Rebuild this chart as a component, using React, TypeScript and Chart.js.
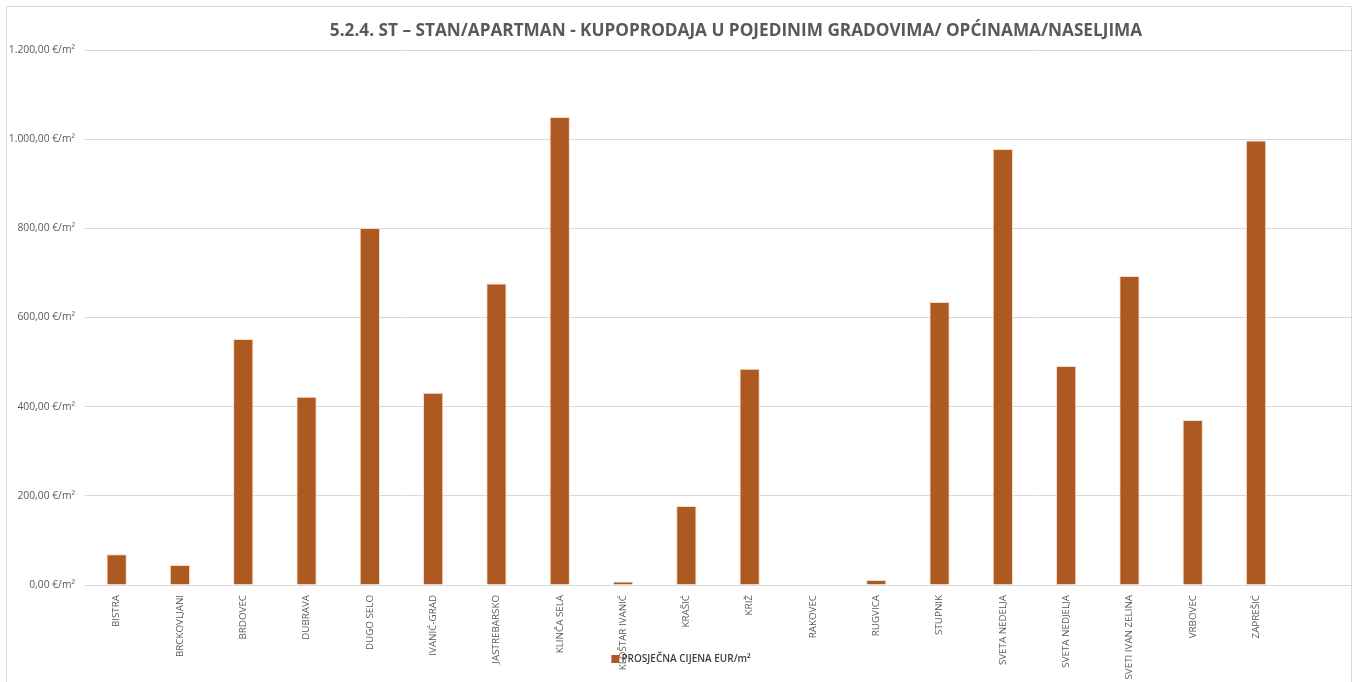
import React, { useEffect, useRef } from "react";
import { Chart, registerables } from "chart.js";

Chart.register(...registerables);

const TITLE = "5.2.4. ST – STAN/APARTMAN - KUPOPRODAJA U POJEDINIM GRADOVIMA/ OPĆINAMA/NASELJIMA";
const SERIES_LABEL = "PROSJEČNA CIJENA EUR/m²";

const CATEGORIES = [
  "BISTRA",
  "BRCKOVLJANI",
  "BRDOVEC",
  "DUBRAVA",
  "DUGO SELO",
  "IVANIĆ-GRAD",
  "JASTREBARSKO",
  "KLINČA SELA",
  "KLOŠTAR IVANIĆ",
  "KRAŠIĆ",
  "KRIŽ",
  "RAKOVEC",
  "RUGVICA",
  "STUPNIK",
  "SVETA NEDELJA",
  "SVETA NEDJELJA",
  "SVETI IVAN ZELINA",
  "VRBOVEC",
  "ZAPREŠIĆ",
  "",
];

const VALUES = [
  69, 45, 552, 422, 801, 431, 676, 1050, 8, 177, 485, 0, 11, 635, 978, 491, 693, 370, 997, null,
];

const Y_MIN = 0;
const Y_MAX = 1200;
const Y_STEP = 200;

const BAR_COLOR = "#ad5a22";
const TEXT_COLOR = "#595959";
const GRID_COLOR = "#d9d9d9";
const FONT = "'Open Sans', 'DejaVu Sans', sans-serif";

function formatEuro(v: number): string {
  const fixed = Math.abs(v).toFixed(2);
  const [intPart, dec] = fixed.split(".");
  const withSep = intPart.replace(/\B(?=(\d{3})+(?!\d))/g, ".");
  return `${v < 0 ? "-" : ""}${withSep},${dec} €/m²`;
}

const overlayPlugin = {
  id: "overlay",
  afterDraw(chart: any) {
    const { ctx, chartArea } = chart;
    ctx.save();
    // Title
    ctx.font = `bold 17.2px ${FONT}`;
    ctx.fillStyle = TEXT_COLOR;
    ctx.textAlign = "center";
    ctx.textBaseline = "middle";
    const cx = chartArea.left + chartArea.width / 2 + 18;
    ctx.fillText(TITLE, cx, 24);
    // Legend
    ctx.font = `600 10px ${FONT}`;
    ctx.fillStyle = BAR_COLOR;
    const lx = chartArea.left + chartArea.width * 0.4158;
    const ly = chart.height - 24;
    ctx.fillRect(lx, ly - 4, 8, 8);
    ctx.fillStyle = "#404040";
    ctx.textAlign = "left";
    ctx.fillText(SERIES_LABEL, lx + 10, ly);
    ctx.restore();
  },
};

export default function App() {
  const ref = useRef<HTMLCanvasElement | null>(null);

  useEffect(() => {
    if (!ref.current) return;
    const chart = new Chart(ref.current, {
      type: "bar",
      data: {
        labels: CATEGORIES,
        datasets: [
          {
            label: SERIES_LABEL,
            data: VALUES as any,
            backgroundColor: BAR_COLOR,
            borderColor: "rgba(250, 215, 185, 0.9)",
            borderWidth: 1,
            barPercentage: 1,
            categoryPercentage: 0.32,
          },
        ],
      },
      options: {
        animation: false,
        responsive: false,
        maintainAspectRatio: false,
        layout: { padding: { top: 43, right: 0, left: 0, bottom: 0 } },
        plugins: {
          legend: { display: false },
          title: { display: false },
          tooltip: { enabled: false },
        },
        scales: {
          x: {
            grid: { display: false, drawTicks: false },
            border: { display: false },
            ticks: {
              autoSkip: false,
              minRotation: 90,
              maxRotation: 90,
              padding: 10,
              color: TEXT_COLOR,
              font: { family: FONT, size: 9.8 },
            },
            afterFit(scale: any) {
              scale.height = 98;
            },
          },
          y: {
            min: Y_MIN,
            max: Y_MAX,
            ticks: {
              stepSize: Y_STEP,
              padding: 10,
              color: TEXT_COLOR,
              font: { family: FONT, size: 10.3 },
              callback: (v: any) => formatEuro(Number(v)),
            },
            grid: { color: GRID_COLOR, drawTicks: false, lineWidth: 1 },
            border: { display: false },
            afterFit(scale: any) {
              scale.width = 78;
            },
          },
        },
      },
      plugins: [overlayPlugin],
    });
    return () => chart.destroy();
  }, []);

  return (
    <div
      style={{
        position: "absolute",
        left: 6,
        top: 6,
        width: 1346,
        height: 690,
        border: `1px solid ${GRID_COLOR}`,
        boxSizing: "border-box",
        background: "#fff",
      }}
    >
      <canvas ref={ref} width={1344} height={676} style={{ display: "block" }} />
    </div>
  );
}
